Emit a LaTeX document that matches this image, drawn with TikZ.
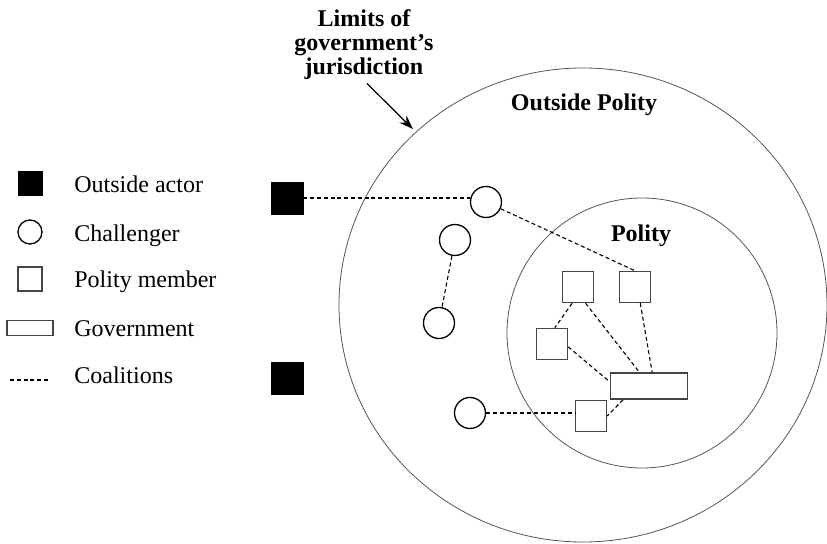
\documentclass[tikz,border=0pt]{standalone}
\usepackage{fontspec}
\setmainfont{Liberation Serif}
\usepackage{tikz}
\usetikzlibrary{positioning, calc, arrows.meta, shapes.geometric}
\definecolor{ringgray}{HTML}{555555}
\definecolor{boxgray} {HTML}{444444}
\tikzset{
  >={Stealth[length=7pt, width=5pt]},
  outside/.style={
    draw=black, fill=black, rectangle,
    minimum size=16pt, inner sep=0pt
  },
  challenger/.style={
    draw=black, line width=0.65pt, circle,
    minimum size=15.5pt, inner sep=0pt, fill=white
  },
  member/.style={
    draw=boxgray, line width=0.75pt, rectangle,
    minimum size=15.5pt, inner sep=0pt, fill=white
  },
  govbox/.style={
    draw=boxgray, line width=0.75pt, rectangle,
    minimum width=38.5pt, minimum height=13pt, inner sep=0pt, fill=white
  },
  ring/.style={
    draw=ringgray, line width=0.4pt, ellipse, inner sep=0pt
  },
  coalition/.style={
    draw=black, line width=0.55pt, dash pattern=on 2pt off 1.4pt
  },
  legtext/.style={
    font=\fontsize{12}{14}\selectfont, anchor=base west, inner sep=0pt
  },
  title/.style={
    font=\bfseries\fontsize{12}{12}\selectfont, inner sep=0pt
  },
  pointer/.style={->, line width=0.6pt, shorten >=2pt},
}

\begin{document}
\begin{tikzpicture}[x=0.5pt, y=-0.5pt]
\useasboundingbox (0,0) rectangle (827,544);

% ---- Rings ---------------------------------------------------------
\node[ring, minimum width=244pt, minimum height=237pt] (outerring) at (583,305) {};
\node[ring, minimum size=135pt]                        (innerring) at (642,333) {};

\node[title, anchor=base] (outlabel) at (584,111) {Outside Polity};
\node[title, anchor=base] (pollabel) at (641,242) {Polity};

% ---- Jurisdiction note ---------------------------------------------
% base anchor sits on the last line
\node[title, align=center, anchor=base] (limits) at (364,75)
  {Limits of\\government's\\jurisdiction};
\draw[pointer] ($(limits.south)+(3,3)$) -- (outerring.134);

% ---- Actors --------------------------------------------------------
% outside actors, left of the outer ring
\node[outside] (oactA) at (287,198) {};
\node[outside] (oactB) at (287,378) {};

% challengers, between the rings
\node[challenger] (chalA) at (486,202) {};
\node[challenger] (chalB) at (455,240) {};
\node[challenger] (chalC) at (439,323) {};
\node[challenger] (chalD) at (470,413) {};

% polity members + government, inside the polity
\node[member] (memA) at (578,287) {};
\node[member] (memB) at (635,287) {};
\node[member] (memC) at (552,344) {};
\node[member] (memD) at (591,416) {};
\node[govbox] (gov)  at (649,386) {};

% ---- Coalitions ----------------------------------------------------
\draw[coalition] (oactA.east) -- (oactA.east -| chalA.west);
\draw[coalition] (chalA) -- (memB.north);
\draw[coalition] (chalB) -- (chalC);
\draw[coalition] (memA.-110) -- (memC.80);
\draw[coalition] (memA.-65)  -- (gov.125);
\draw[coalition] (memB.-72)  -- (gov.77);
\draw[coalition] (memC.-10)  -- (gov.174);
\draw[coalition] (gov.208)   -- (memD.east);
\draw[coalition] (chalD.east) -- (chalD.east -| memD.west);

% ---- Legend --------------------------------------------------------
\node[outside, minimum size=12pt]    (keyOut)  at (30,183) {};
\node[challenger, minimum size=12pt] (keyChal) at (30,232) {};
\node[member, minimum size=12pt]     (keyMem)  at (30,279) {};
\node[govbox, minimum width=23pt, minimum height=7.5pt] (keyGov) at (30,328) {};
\coordinate (keyCoalL) at (10,380);
\coordinate (keyCoalR) at (50,380);
\draw[coalition] (keyCoalL) -- (keyCoalR);

\node[legtext] (txtOut)  at (74,193) {Outside actor};
\node[legtext] (txtChal) at (74,242) {Challenger};
\node[legtext] (txtMem)  at (74,288) {Polity member};
\node[legtext] (txtGov)  at (74,337) {Government};
\node[legtext] (txtCoal) at (74,384) {Coalitions};

\end{tikzpicture}
\end{document}
